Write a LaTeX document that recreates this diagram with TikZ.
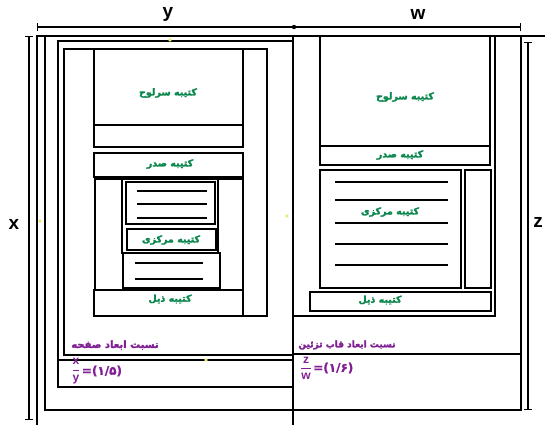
\documentclass[tikz,border=0pt]{standalone}
\usepackage{amsmath}
\usepackage{fontspec}
\usepackage{tikz}
\usetikzlibrary{positioning}
\setmainfont{Liberation Sans}
\newfontfamily\arabicfont[Script=Arabic,FakeBold=2.5]{DejaVu Sans Bold}
\newfontfamily\digitfont[FakeBold=1.5]{DejaVu Sans Bold}
\TeXXeTstate=1
\definecolor{kgreen}{RGB}{12,135,78}
\definecolor{kpurple}{RGB}{128,32,148}
\definecolor{kyellow}{RGB}{240,232,120}
\newcommand{\fatext}[1]{{\arabicfont\beginR #1\endR}}

\begin{document}
\begin{tikzpicture}[x=1pt,y=-1pt,
        frame/.style={line width=1.7pt,line cap=rect},
        textline/.style={line width=1.4pt},
        dimline/.style={line width=1.2pt,|-|},
        panel/.style={font=\fontsize{9.5}{10}\selectfont,text=kgreen,inner sep=0pt},
        ratio/.style={font=\fontsize{10}{11}\selectfont,text=kpurple,inner sep=0pt},
        axislabel/.style={font=\fontsize{19}{19}\selectfont\bfseries,inner sep=0pt}]
        \useasboundingbox (0,0) rectangle (545,424);

        % dimension lines
        \draw[dimline] (37,27) coordinate (Y1) -- (521,27) coordinate (W2);
        \fill (294,27) coordinate (YW) circle (2.2pt);
        \draw[dimline] (29,36) coordinate (X1) -- (29,420) coordinate (X2);
        \draw[dimline] (528,42) coordinate (Z1) -- (528,410) coordinate (Z2);
        \node[axislabel] (ylab) at (168,14) {y};
        \node[axislabel] (wlab) at (418,14) {w};
        \node[axislabel] (xlab) at (14,224) {x};
        \node[axislabel] (zlab) at (538,222) {z};

        % outer frames
        \draw[frame] (37,424) -- (37,36) -- (545,36);
        \draw[frame] (45,36) -- (45,410) -- (293,410);
        \draw[frame] (293,36) -- (293,424);
        \draw[frame] (293,41) -- (58,41) -- (58,387) -- (293,387);
        \draw[frame] (58,360) -- (293,360);
        \draw[frame] (267,316) -- (267,49) -- (64,49) -- (64,355) -- (293,355);

        % left page
        \draw[frame] (94,49) rectangle (243,125);
        \draw[frame] (94,125) rectangle (243,147);
        \draw[frame] (94,153) rectangle (243,177);
        \draw[line width=2.6pt] (94,179) -- (243,179);
        \draw[frame] (95,179) -- (95,290);
        \draw[frame] (243,179) -- (243,290);
        \draw[frame] (122,179) -- (122,253);
        \draw[frame] (218,179) -- (218,253);
        \draw[frame] (126,182) rectangle (215,224);
        \draw[frame] (127,229) rectangle (216,250);
        \draw[frame] (123,253) rectangle (220,288);
        \draw[frame] (94,290) rectangle (243,316) (243,316) -- (267,316);
        \draw[textline] (137,191) -- (207,191) (137,204) -- (207,204) (137,218) -- (207,218);
        \draw[textline] (135,263) -- (203,263) (135,279) -- (203,279);

        % right page
        \draw[frame] (320,36) rectangle (490,146);
        \draw[frame] (320,146) rectangle (490,165);
        \draw[line width=2.2pt] (320,170) rectangle (461,288);
        \draw[frame] (465,170) rectangle (491,288);
        \draw[frame] (310,292) rectangle (491,311);
        \draw[frame] (495,36) -- (495,316) -- (293,316);
        \draw[frame] (521,36) -- (521,410) -- (293,410);
        \draw[frame] (293,354) -- (521,354);
        \draw[textline] (335,182) -- (448,182) (335,200) -- (448,200) (335,223) -- (448,223)
            (335,244) -- (448,244) (335,265) -- (448,265);

        % panel names
        \node[panel] (lhead) at (168,93) {\fatext{کتیبه سرلوح}};
        \node[panel] (lsadr) at (170,164) {\fatext{کتیبه صدر}};
        \node[panel] (lmid) at (171,240) {\fatext{کتیبه مرکزی}};
        \node[panel] (lfoot) at (170,299) {\fatext{کتیبه ذیل}};
        \node[panel] (rhead) at (405,97) {\fatext{کتیبه سرلوح}};
        \node[panel] (rsadr) at (400,155) {\fatext{کتیبه صدر}};
        \node[panel] (rmid) at (390,212) {\fatext{کتیبه مرکزی}};
        \node[panel] (rfoot) at (380,300) {\fatext{کتیبه ذیل}};

        % ratios
        \node[ratio] (lratio) at (115,345) {\fatext{نسبت ابعاد صفحه}};
        \node[ratio] (lfrac) at (76,371) {\fontsize{12}{13}\selectfont$\dfrac{\mathbf{x}}{\mathbf{y}}$};
        \node[ratio,right=1pt of lfrac,font=\fontsize{12}{13}\selectfont] (lval) {\digitfont =(۱/۵)};
        \node[ratio,font=\fontsize{9}{10}\selectfont] (rratio) at (347,345) {\fatext{نسبت ابعاد قاب تزئین}};
        \node[ratio] (rfrac) at (306,368) {\fontsize{12}{13}\selectfont$\dfrac{\mathbf{z}}{\mathbf{w}}$};
        \node[ratio,right=1pt of rfrac,font=\fontsize{12}{13}\selectfont] (rval) {\digitfont =(۱/۶)};

        % marks
        \foreach \p in {(170,40),(40,221),(287,216),(206,360)}
            \fill[kyellow] \p circle (1.8pt);
\end{tikzpicture}
\end{document}
